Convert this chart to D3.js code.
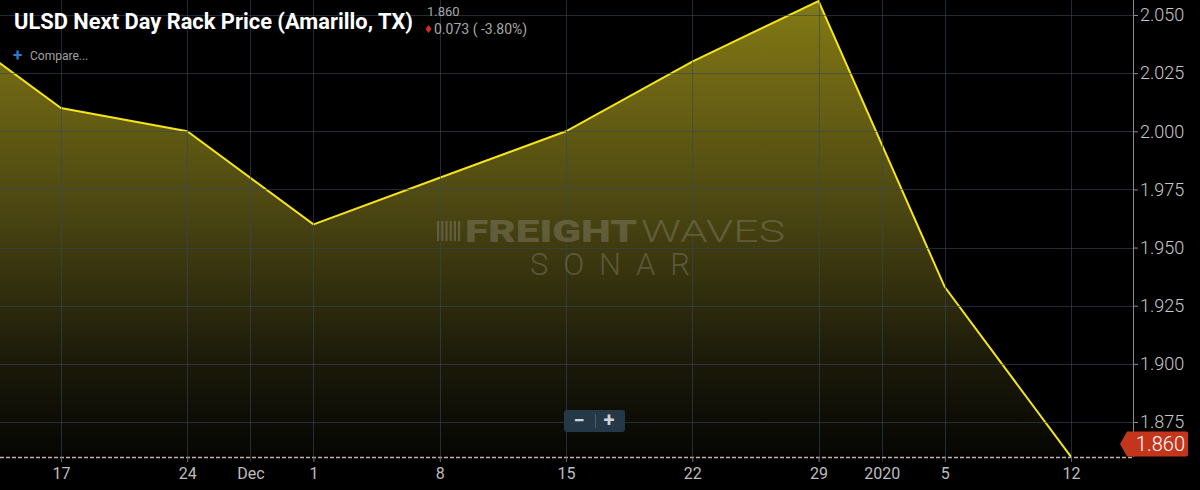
<!DOCTYPE html>
<html><head><meta charset="utf-8">
<script src="https://cdn.jsdelivr.net/npm/d3@7"></script>
<style>
html,body{margin:0;padding:0;background:#000;}
svg{display:block;font-family:Roboto,"Noto Sans",sans-serif;}
</style></head>
<body><svg id="c" width="1200" height="490"></svg>
<script>
const dates = ["2019-11-10","2019-11-17","2019-11-24","2019-12-01","2019-12-08","2019-12-15","2019-12-22","2019-12-29","2020-01-05","2020-01-12"];
const prices = [2.050, 2.010, 2.000, 1.960, 1.980, 2.000, 2.030, 2.056, 1.933, 1.860];
const yTicks = [1.875, 1.900, 1.925, 1.950, 1.975, 2.000, 2.025, 2.050];
const xTickDates = ["2019-11-17","2019-11-24","2019-12-01","2019-12-08","2019-12-15","2019-12-22","2019-12-29","2020-01-05","2020-01-12"];
const xTickLabels = ["17","24","1","8","15","22","29","5","12"];
const monthTickDates = ["2019-11-27T12","2020-01-01T12"];
const monthTickLabels = ["Dec","2020"];

const parse = d3.utcParse("%Y-%m-%d");
const parseH = d3.utcParse("%Y-%m-%dT%H");
const data = dates.map((d,i)=>({date:parse(d), v:prices[i]}));
const svg = d3.select("#c");
const plotR = 1133, plotB = 457;
const day = 864e5;
const pxPerDay = 126.4/7;
const d17 = parse("2019-11-17"), d12 = parse("2020-01-12");
const x = d3.scaleUtc()
  .domain([new Date(+d17 - 61/pxPerDay*day), new Date(+d12 + (plotR-1071)/pxPerDay*day)])
  .range([0, plotR]);
const y = d3.scaleLinear().domain([1.85995, 2.05645]).range([plotB, 0]);

const defs = svg.append("defs");
const g = defs.append("linearGradient").attr("id","fillg").attr("gradientUnits","userSpaceOnUse")
  .attr("x1",0).attr("y1",0).attr("x2",0).attr("y2",plotB);
g.append("stop").attr("offset",0).attr("stop-color","#847a14");
g.append("stop").attr("offset",0.45).attr("stop-color","#4c4712");
g.append("stop").attr("offset",0.8).attr("stop-color","#1a1909");
g.append("stop").attr("offset",1).attr("stop-color","#050503");
defs.append("clipPath").attr("id","clip").append("rect").attr("x",0).attr("y",0).attr("width",plotR).attr("height",plotB);

// area
const plot = svg.append("g").attr("clip-path","url(#clip)");
plot.append("path").datum(data)
  .attr("d", d3.area().x(d=>x(d.date)).y0(plotB).y1(d=>y(d.v)))
  .attr("fill","url(#fillg)");

// grid
const grid = svg.append("g");
const allV = xTickDates.map(parse).concat(monthTickDates.map(parseH));
grid.selectAll("line.v").data(allV).join("line")
  .attr("x1",d=>Math.round(x(d))+0.5).attr("x2",d=>Math.round(x(d))+0.5)
  .attr("y1",0).attr("y2",plotB+5).attr("stroke","#34475a").attr("stroke-opacity",0.6).attr("stroke-width",1);
grid.selectAll("line.h").data(yTicks).join("line")
  .attr("x1",0).attr("x2",plotR)
  .attr("y1",d=>Math.round(y(d))+0.5).attr("y2",d=>Math.round(y(d))+0.5)
  .attr("stroke","#34475a").attr("stroke-opacity",0.6).attr("stroke-width",1);

// watermark
const wm = svg.append("g").attr("fill","#8c8a78").attr("fill-opacity",0.42);
wm.append("text").attr("x",465).attr("y",242).attr("font-size",31).attr("font-weight",900)
  .attr("textLength",172).attr("lengthAdjust","spacingAndGlyphs").text("FREIGHT");
wm.append("text").attr("x",641).attr("y",242).attr("font-size",31).attr("font-weight",300)
  .attr("textLength",144).attr("lengthAdjust","spacingAndGlyphs").text("WAVES");
wm.append("text").attr("x",530).attr("y",275).attr("font-size",31).attr("font-weight",300)
  .attr("textLength",160).attr("lengthAdjust","spacing").text("SONAR");
for(let i=0;i<6;i++){
  wm.append("rect").attr("x",437+i*4.2).attr("y",221).attr("width",2.2).attr("height",20);
}

// line
plot.append("path").datum(data)
  .attr("d", d3.line().x(d=>x(d.date)).y(d=>y(d.v)))
  .attr("fill","none").attr("stroke","#f4e41a").attr("stroke-width",2);

// baseline dashed price line
svg.append("line").attr("x1",0).attr("x2",plotR).attr("y1",plotB+0.5).attr("y2",plotB+0.5)
  .attr("stroke","#c8b0a8").attr("stroke-width",1.3).attr("stroke-dasharray","4,2");

// right axis
svg.append("line").attr("x1",plotR+0.5).attr("x2",plotR+0.5).attr("y1",0).attr("y2",plotB)
  .attr("stroke","#8c8c8c").attr("stroke-width",1);
const yAxis = d3.axisRight(y).tickValues(yTicks).tickFormat(d3.format(".3f")).tickSize(5).tickPadding(2);
const ya = svg.append("g").attr("transform",`translate(${plotR},0)`).call(yAxis);
ya.select(".domain").remove();
ya.selectAll("line").attr("stroke","#8c8c8c");
ya.selectAll("text").attr("fill","#c8c8c8").attr("font-size",18).attr("font-family","Roboto,sans-serif").attr("font-weight",300);

// bottom axis labels
const xa = svg.append("g").attr("transform",`translate(0,${plotB})`);
const xAxis = d3.axisBottom(x).tickValues(xTickDates.map(parse))
  .tickFormat((d,i)=>xTickLabels[i]).tickSize(5).tickPadding(6);
xa.call(xAxis);
xa.select(".domain").remove();
xa.selectAll("line").attr("stroke","#5a6670");
xa.selectAll("text").attr("fill","#bdbdbd").attr("font-size",16).attr("font-family","Roboto,sans-serif");
const xm = svg.append("g").attr("transform",`translate(0,${plotB})`);
const xAxisM = d3.axisBottom(x).tickValues(monthTickDates.map(parseH))
  .tickFormat((d,i)=>monthTickLabels[i]).tickSize(0).tickPadding(11);
xm.call(xAxisM);
xm.select(".domain").remove();
xm.selectAll("text").attr("fill","#bdbdbd").attr("font-size",16).attr("font-family","Roboto,sans-serif");

// last price label
const last = data[data.length-1];
const cy = y(last.v) - 13;
const tip = plotR - 13, bx = plotR - 6, br = 1188;
svg.append("path")
  .attr("d",`M${tip},${cy} L${bx},${cy-12.5} L${br-2},${cy-12.5} Q${br},${cy-12.5} ${br},${cy-10.5} L${br},${cy+10.5} Q${br},${cy+12.5} ${br-2},${cy+12.5} L${bx},${cy+12.5} Z`)
  .attr("fill","#c4361b");
svg.append("text").attr("x",br-3).attr("y",cy+7).attr("text-anchor","end")
  .attr("fill","#ffffff").attr("font-size",20).attr("font-weight",300).text(d3.format(".3f")(last.v));

// zoom control
const zc = svg.append("g");
zc.append("rect").attr("x",564).attr("y",410).attr("width",61).attr("height",22).attr("rx",3).attr("fill","#243847");
zc.append("line").attr("x1",595.5).attr("x2",595.5).attr("y1",414).attr("y2",428).attr("stroke","#4a5d6c");
zc.append("text").attr("x",579).attr("y",427).attr("text-anchor","middle").attr("fill","#d0d4d8").attr("font-size",20).attr("font-weight",700).text("−");
zc.append("text").attr("x",609).attr("y",427).attr("text-anchor","middle").attr("fill","#d0d4d8").attr("font-size",20).attr("font-weight",700).text("+");

// title
svg.append("text").attr("x",14).attr("y",29).attr("fill","#ffffff").attr("font-size",22)
  .attr("font-weight",700).attr("textLength",399).attr("lengthAdjust","spacingAndGlyphs")
  .text("ULSD Next Day Rack Price (Amarillo, TX)");
svg.append("text").attr("x",427).attr("y",16).attr("fill","#a8a8a8").attr("font-size",13).text("1.860");
svg.append("path").attr("d","M428.5,25 L431.5,29 L428.5,33 L425.5,29 Z").attr("fill","#d03020");
svg.append("text").attr("x",434).attr("y",34).attr("fill","#a8a8a8").attr("font-size",14).text("0.073 ( -3.80%)");
svg.append("text").attr("x",13).attr("y",61).attr("fill","#2e7bd0").attr("font-size",17).attr("font-weight",700).text("+");
svg.append("text").attr("x",30).attr("y",60).attr("fill","#a0a0a0").attr("font-size",12).text("Compare...");
</script></body></html>
